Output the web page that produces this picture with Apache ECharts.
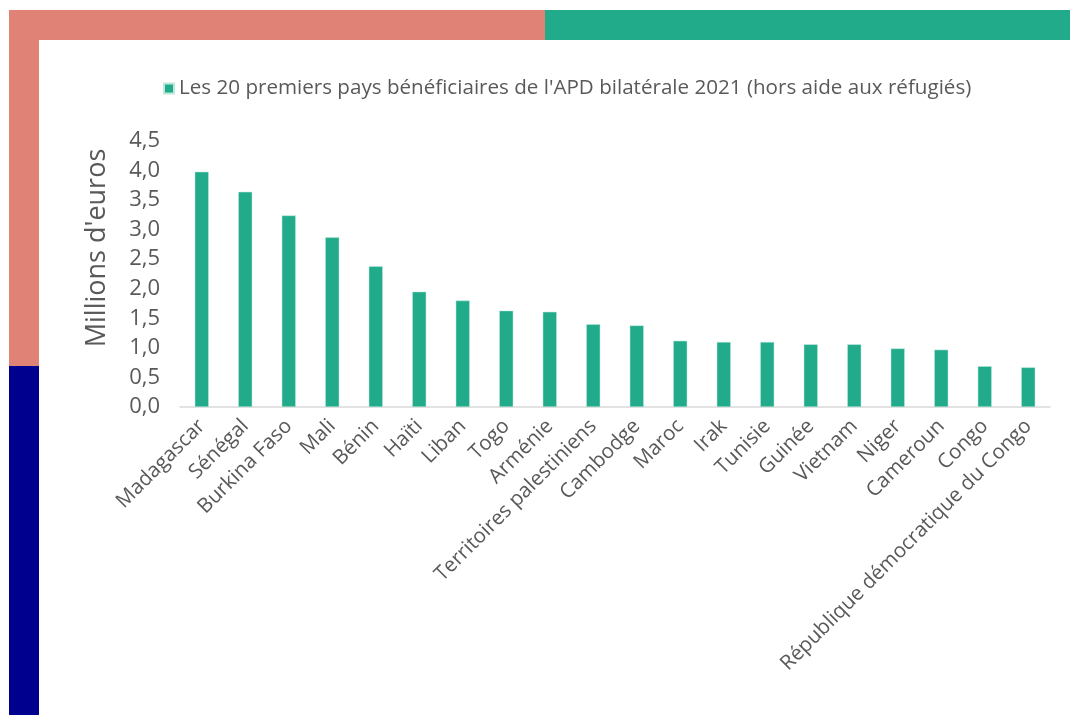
<!DOCTYPE html>
<html>
<head>
<meta charset="utf-8">
<script src="https://cdn.jsdelivr.net/npm/echarts@6/dist/echarts.min.js"></script>
<style>
html, body { margin: 0; padding: 0; background: #fff; }
#chart { width: 1070px; height: 715px; }
</style>
</head>
<body>
<div id="chart"></div>
<script>
// pays bénéficiaires (ordre du graphique)
var pays = ["Madagascar", "Sénégal", "Burkina Faso", "Mali", "Bénin", "Haïti", "Liban", "Togo", "Arménie",
	"Territoires palestiniens", "Cambodge", "Maroc", "Irak", "Tunisie", "Guinée", "Vietnam", "Niger",
	"Cameroun", "Congo", "République démocratique du Congo"];
// montants en millions d'euros
var montants = [3.98, 3.64, 3.24, 2.87, 2.38, 1.95, 1.80, 1.63, 1.61, 1.40, 1.38, 1.12, 1.10, 1.10, 1.06, 1.06, 0.99, 0.97, 0.69, 0.67];
var nom_serie = "Les 20 premiers pays bénéficiaires de l'APD bilatérale 2021 (hors aide aux réfugiés)";

var chart = echarts.init(document.getElementById("chart"));
var police = "'Open Sans', 'DejaVu Sans', sans-serif";
var option = {
	animation: false,
	backgroundColor: "#fff",
	textStyle: { fontFamily: police },
	// cadre décoratif + titre de l'axe
	graphic: [
		{ type: "rect", shape: { x: 9, y: 10, width: 536, height: 30 }, style: { fill: "#E18277" } },
		{ type: "rect", shape: { x: 545, y: 10, width: 525, height: 30 }, style: { fill: "#21AB8A" } },
		{ type: "rect", shape: { x: 9, y: 10, width: 30, height: 356 }, style: { fill: "#E18277" } },
		{ type: "rect", shape: { x: 9, y: 366, width: 30, height: 349 }, style: { fill: "#00008E" } },
		{
			type: "text", x: 97, y: 248, rotation: Math.PI / 2,
			style: {
				text: "Millions d'euros", fontSize: 27, fill: "#595959", fontFamily: police,
				align: "center", verticalAlign: "middle"
			}
		}
	],
	legend: {
		top: 73,
		left: 158,
		itemWidth: 10,
		itemHeight: 10,
		icon: "rect",
		itemGap: 6,
		textStyle: { fontSize: 20.6, color: "#595959", fontFamily: police },
		data: [nom_serie]
	},
	grid: { left: 180, right: 20, top: 141, bottom: 308, containLabel: false },
	xAxis: {
		type: "category",
		data: pays,
		axisLine: { lineStyle: { color: "#d9d9d9", width: 1.5 } },
		axisTick: { show: false },
		axisLabel: { interval: 0, rotate: 45, fontSize: 20.5, color: "#595959", margin: 16, fontFamily: police }
	},
	yAxis: {
		type: "value",
		min: 0,
		max: 4.5,
		interval: 0.5,
		axisLine: { show: false },
		axisTick: { show: false },
		splitLine: { show: false },
		axisLabel: {
			fontSize: 22, color: "#595959", margin: 20, fontFamily: police,
			formatter: function (v) { return v.toFixed(1).replace(".", ","); }
		}
	},
	series: [{
		name: nom_serie,
		type: "bar",
		data: montants,
		barWidth: 14,
		itemStyle: { color: "#21AB8A", borderColor: "#bfe8dc", borderWidth: 0.5 }
	}]
};
chart.setOption(option);
</script>
</body>
</html>
